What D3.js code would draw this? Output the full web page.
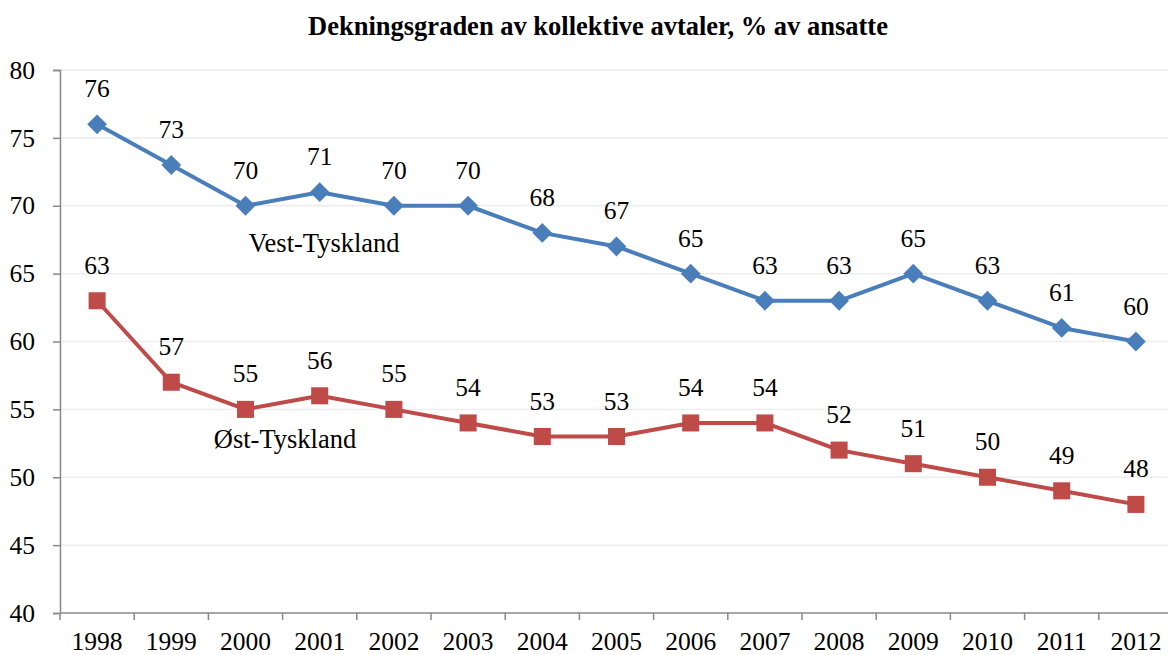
<!DOCTYPE html>
<html>
<head>
<meta charset="utf-8">
<script src="https://cdn.jsdelivr.net/npm/d3@7"></script>
<style>
  body { margin: 0; background: #fff; }
  svg { display: block; font-family: "Liberation Serif", "Times New Roman", serif; }
</style>
</head>
<body>
<svg id="chart" width="1168" height="655"></svg>
<script>
const years = ["1998", "1999", "2000", "2001", "2002", "2003", "2004", "2005", "2006", "2007", "2008", "2009", "2010", "2011", "2012"];
const vest = [76, 73, 70, 71, 70, 70, 68, 67, 65, 63, 63, 65, 63, 61, 60];
const ost = [63, 57, 55, 56, 55, 54, 53, 53, 54, 54, 52, 51, 50, 49, 48];
const yTicks = [40, 45, 50, 55, 60, 65, 70, 75, 80];

const svg = d3.select("#chart"),
  plotLeft = 60,
  plotRight = 1173,
  plotTop = 70,
  plotBottom = 613,
  fontSize = "25.5px";

const x = d3.scaleBand().domain(years).range([plotLeft, plotRight]);
const y = d3.scaleLinear().domain([40, 80]).range([plotBottom, plotTop]);

svg.append("text")
  .attr("x", 598)
  .attr("y", 35)
  .attr("text-anchor", "middle")
  .attr("font-size", "26.5px")
  .attr("font-weight", "bold")
  .text("Dekningsgraden av kollektive avtaler, % av ansatte");

// gridlines
svg.append("g")
  .selectAll("line")
  .data(yTicks.filter((d) => d > 40))
  .enter()
  .append("line")
  .attr("x1", plotLeft)
  .attr("x2", 1168)
  .attr("y1", (d) => y(d))
  .attr("y2", (d) => y(d))
  .attr("stroke", "#ededed")
  .attr("stroke-width", 1.5);

// y axis
const yAxis = svg.append("g")
  .attr("transform", `translate(${plotLeft},0)`)
  .call(d3.axisLeft(y).tickValues(yTicks).tickSize(7).tickPadding(18));
yAxis.select(".domain").attr("stroke", "#888").attr("stroke-width", 1.5);
yAxis.selectAll(".tick line").attr("stroke", "#888").attr("stroke-width", 1.5);
yAxis.selectAll(".tick text")
  .attr("font-family", "Liberation Serif, serif")
  .attr("font-size", fontSize)
  .attr("fill", "#000");

// x axis
const xAxis = svg.append("g")
  .attr("transform", `translate(0,${plotBottom})`)
  .call(d3.axisBottom(x).tickSizeOuter(0).tickSize(0).tickPadding(0));
xAxis.select(".domain").remove();
svg.append("line")
  .attr("x1", plotLeft).attr("x2", 1168)
  .attr("y1", plotBottom).attr("y2", plotBottom)
  .attr("stroke", "#888").attr("stroke-width", 1.5);
svg.append("g")
  .selectAll("line")
  .data(years)
  .enter()
  .append("line")
  .attr("x1", (d) => x(d))
  .attr("x2", (d) => x(d))
  .attr("y1", plotBottom)
  .attr("y2", plotBottom + 7)
  .attr("stroke", "#888")
  .attr("stroke-width", 1.5);
xAxis.selectAll(".tick text")
  .attr("font-family", "Liberation Serif, serif")
  .attr("font-size", fontSize)
  .attr("fill", "#000")
  .attr("y", 37)
  .attr("dy", null);

const cx = (i) => x(years[i]) + x.bandwidth() / 2;

const line = d3.line()
  .x((d, i) => cx(i))
  .y((d) => y(d));

function drawSeries(values, colour, symbol, size) {
  svg.append("path")
    .datum(values)
    .attr("fill", "none")
    .attr("stroke", colour)
    .attr("stroke-width", 4)
    .attr("stroke-linejoin", "round")
    .attr("d", line);

  svg.append("g")
    .selectAll("path")
    .data(values)
    .enter()
    .append("path")
    .attr("transform", (d, i) => `translate(${cx(i)},${y(d)})`)
    .attr("d", d3.symbol().type(symbol).size(size))
    .attr("fill", colour);

  svg.append("g")
    .selectAll("text")
    .data(values)
    .enter()
    .append("text")
    .attr("x", (d, i) => cx(i))
    .attr("y", (d) => y(d) - 27)
    .attr("text-anchor", "middle")
    .attr("font-size", fontSize)
    .text((d) => d);
}

drawSeries(vest, "#4a7ebb", d3.symbolDiamond2, 250);
drawSeries(ost, "#be4b48", d3.symbolSquare2, 370);

svg.append("text")
  .attr("x", 324).attr("y", 252)
  .attr("text-anchor", "middle")
  .attr("font-size", "26.5px")
  .text("Vest-Tyskland");

svg.append("text")
  .attr("x", 285).attr("y", 448)
  .attr("text-anchor", "middle")
  .attr("font-size", "26.5px")
  .text("Øst-Tyskland");
</script>
</body>
</html>
